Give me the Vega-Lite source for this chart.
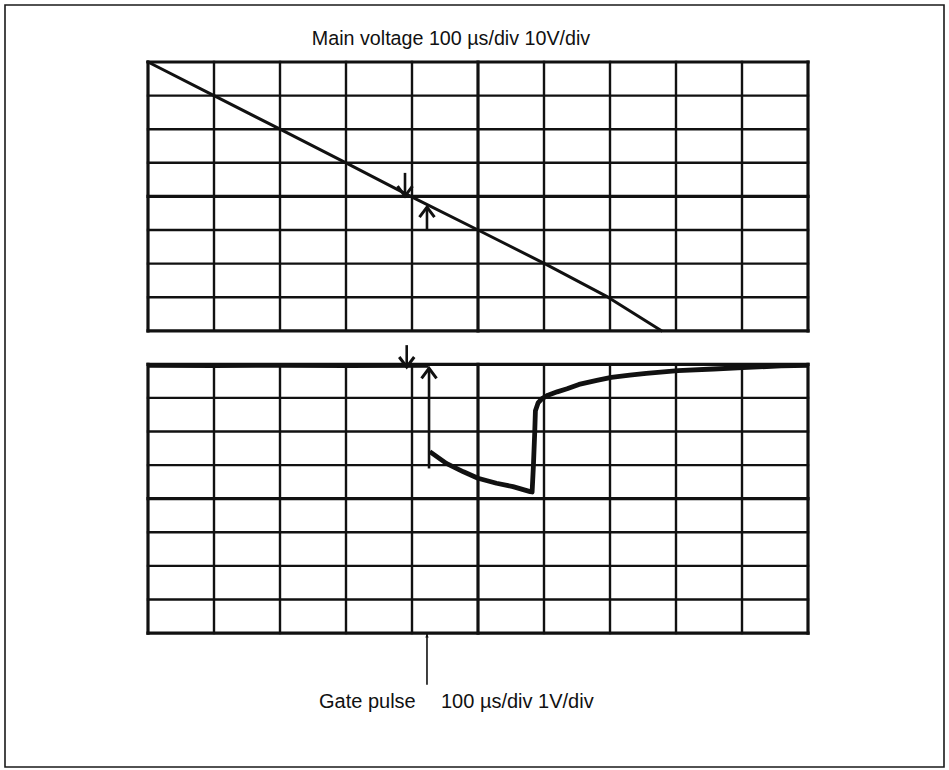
{
  "$schema": "https://vega.github.io/schema/vega-lite/v6.json",
  "width": 949,
  "height": 770,
  "autosize": {"type": "fit", "contains": "padding"},
  "padding": {"left": 5, "top": 5, "right": 5, "bottom": 3},
  "background": "white",
  "config": {"view": {"stroke": "#1a1a1a", "strokeWidth": 1.6}},
  "datasets": {
    "mainCols": [
      {"t": 0, "lo": -40, "hi": 40, "kind": "major"}, {"t": 100, "lo": -40, "hi": 40, "kind": "minor"}, {"t": 200, "lo": -40, "hi": 40, "kind": "minor"},
      {"t": 300, "lo": -40, "hi": 40, "kind": "minor"}, {"t": 400, "lo": -40, "hi": 40, "kind": "minor"}, {"t": 500, "lo": -40, "hi": 40, "kind": "major"},
      {"t": 600, "lo": -40, "hi": 40, "kind": "minor"}, {"t": 700, "lo": -40, "hi": 40, "kind": "minor"}, {"t": 800, "lo": -40, "hi": 40, "kind": "minor"},
      {"t": 900, "lo": -40, "hi": 40, "kind": "minor"}, {"t": 1000, "lo": -40, "hi": 40, "kind": "major"}
    ],
    "mainRows": [
      {"v": -40, "t0": 0, "t1": 1000, "kind": "major"}, {"v": -30, "t0": 0, "t1": 1000, "kind": "minor"}, {"v": -20, "t0": 0, "t1": 1000, "kind": "minor"},
      {"v": -10, "t0": 0, "t1": 1000, "kind": "minor"}, {"v": 0, "t0": 0, "t1": 1000, "kind": "major"}, {"v": 10, "t0": 0, "t1": 1000, "kind": "minor"},
      {"v": 20, "t0": 0, "t1": 1000, "kind": "minor"}, {"v": 30, "t0": 0, "t1": 1000, "kind": "minor"}, {"v": 40, "t0": 0, "t1": 1000, "kind": "major"}
    ],
    "gateCols": [
      {"t": 0, "lo": -8, "hi": 0, "kind": "major"}, {"t": 100, "lo": -8, "hi": 0, "kind": "minor"}, {"t": 200, "lo": -8, "hi": 0, "kind": "minor"},
      {"t": 300, "lo": -8, "hi": 0, "kind": "minor"}, {"t": 400, "lo": -8, "hi": 0, "kind": "minor"}, {"t": 500, "lo": -8, "hi": 0, "kind": "major"},
      {"t": 600, "lo": -8, "hi": 0, "kind": "minor"}, {"t": 700, "lo": -8, "hi": 0, "kind": "minor"}, {"t": 800, "lo": -8, "hi": 0, "kind": "minor"},
      {"t": 900, "lo": -8, "hi": 0, "kind": "minor"}, {"t": 1000, "lo": -8, "hi": 0, "kind": "major"}
    ],
    "gateRows": [
      {"v": -8, "t0": 0, "t1": 1000, "kind": "major"}, {"v": -7, "t0": 0, "t1": 1000, "kind": "minor"}, {"v": -6, "t0": 0, "t1": 1000, "kind": "minor"},
      {"v": -5, "t0": 0, "t1": 1000, "kind": "minor"}, {"v": -4, "t0": 0, "t1": 1000, "kind": "major"}, {"v": -3, "t0": 0, "t1": 1000, "kind": "minor"},
      {"v": -2, "t0": 0, "t1": 1000, "kind": "minor"}, {"v": -1, "t0": 0, "t1": 1000, "kind": "minor"}, {"v": 0, "t0": 0, "t1": 1000, "kind": "major"}
    ],
    "mainTrace": [
      {"t": 0, "v": 40}, {"t": 100, "v": 30}, {"t": 200, "v": 20}, {"t": 300, "v": 10}, {"t": 398, "v": 0},
      {"t": 500, "v": -10}, {"t": 601, "v": -20}, {"t": 697, "v": -30}, {"t": 778, "v": -40}
    ],
    "gateTrace": [
      {"seg": "a", "t": 0, "v": -0.03}, {"seg": "a", "t": 100, "v": -0.04}, {"seg": "a", "t": 200, "v": -0.03}, {"seg": "a", "t": 300, "v": -0.04}, {"seg": "a", "t": 425, "v": -0.03},
      {"seg": "b", "t": 427, "v": -2.6}, {"seg": "b", "t": 452, "v": -2.95}, {"seg": "b", "t": 478, "v": -3.2}, {"seg": "b", "t": 500, "v": -3.39},
      {"seg": "b", "t": 528, "v": -3.54}, {"seg": "b", "t": 553, "v": -3.64}, {"seg": "b", "t": 579, "v": -3.79}, {"seg": "b", "t": 582, "v": -3.8},
      {"seg": "b", "t": 584, "v": -3.0}, {"seg": "b", "t": 586, "v": -2.0}, {"seg": "b", "t": 587, "v": -1.38}, {"seg": "b", "t": 591, "v": -1.15},
      {"seg": "b", "t": 597, "v": -1.02}, {"seg": "b", "t": 606, "v": -0.92}, {"seg": "b", "t": 620, "v": -0.82}, {"seg": "b", "t": 635, "v": -0.73},
      {"seg": "b", "t": 653, "v": -0.6}, {"seg": "b", "t": 680, "v": -0.48}, {"seg": "b", "t": 702, "v": -0.39}, {"seg": "b", "t": 730, "v": -0.32},
      {"seg": "b", "t": 755, "v": -0.27}, {"seg": "b", "t": 803, "v": -0.19}, {"seg": "b", "t": 857, "v": -0.14}, {"seg": "b", "t": 901, "v": -0.1},
      {"seg": "b", "t": 959, "v": -0.05}, {"seg": "b", "t": 1000, "v": -0.03}
    ],
    "mainArrows": [
      {"t": 389.4, "from": 7.0, "to": 0.1, "dir": "down"},
      {"t": 422.7, "from": -10, "to": -3.2, "dir": "up"}
    ],
    "gateArrows": [
      {"t": 392, "from": 0.57, "to": -0.08, "dir": "down"},
      {"t": 425.8, "from": -3.1, "to": -0.12, "dir": "up"}
    ],
    "pointer": [{"t": 422.7, "from": -9.54, "to": -8.03}],
    "mainLabel": [{"text": "Main voltage 100 µs/div 10V/div", "t": 459.1, "v": 45.06}],
    "gateLabel": [
      {"text": "Gate pulse", "t": 259.1, "v": -10.23},
      {"text": "100 µs/div 1V/div", "t": 443.9, "v": -10.23}
    ]
  },
  "encoding": {
    "x": {"field": "t", "type": "quantitative", "scale": {"domain": [-216.667, 1206.061], "nice": false, "zero": false}, "axis": null}
  },
  "layer": [
    {
      "encoding": {
        "y": {"field": "v", "type": "quantitative", "scale": {"domain": [-169.821, 56.964], "nice": false, "zero": false}, "axis": null}
      },
      "layer": [
        {
          "data": {"name": "mainCols"},
          "mark": {"type": "rule", "color": "#111", "strokeCap": "square"},
          "encoding": {
            "y": {"field": "lo", "type": "quantitative", "scale": {"domain": [-169.821, 56.964], "nice": false, "zero": false}, "axis": null},
            "y2": {"field": "hi"},
            "strokeWidth": {"field": "kind", "type": "ordinal", "scale": {"domain": ["major", "minor"], "range": [3.2, 2.4]}, "legend": null}
          }
        },
        {
          "data": {"name": "mainRows"},
          "mark": {"type": "rule", "color": "#111", "strokeCap": "square"},
          "encoding": {
            "x": {"field": "t0", "type": "quantitative", "scale": {"domain": [-216.667, 1206.061], "nice": false, "zero": false}, "axis": null},
            "x2": {"field": "t1"},
            "strokeWidth": {"field": "kind", "type": "ordinal", "scale": {"domain": ["major", "minor"], "range": [3.2, 2.4]}, "legend": null}
          }
        },
        {
          "data": {"name": "mainTrace"},
          "mark": {"type": "line", "color": "#111", "strokeWidth": 3, "strokeJoin": "round", "strokeCap": "round"},
          "encoding": {}
        },
        {
          "data": {"name": "mainArrows"},
          "mark": {"type": "rule", "color": "#111", "strokeWidth": 2.6},
          "encoding": {
            "y": {"field": "from", "type": "quantitative", "scale": {"domain": [-169.821, 56.964], "nice": false, "zero": false}, "axis": null},
            "y2": {"field": "to"}
          }
        },
        {
          "data": {"name": "mainArrows"},
          "mark": {"type": "point", "filled": false, "color": "#111", "strokeWidth": 3, "opacity": 1, "size": 400, "strokeJoin": "miter"},
          "encoding": {
            "y": {"field": "to", "type": "quantitative", "scale": {"domain": [-169.821, 56.964], "nice": false, "zero": false}, "axis": null},
            "shape": {"field": "dir", "type": "nominal", "scale": {"domain": ["up", "down"], "range": ["M-0.75,1L0,0L0.75,1", "M-0.75,-1L0,0L0.75,-1"]}, "legend": null}
          }
        },
        {
          "data": {"name": "mainLabel"},
          "mark": {"type": "text", "align": "center", "baseline": "alphabetic", "font": "Liberation Sans", "fontSize": 19.7, "color": "#111"},
          "encoding": {"text": {"field": "text"}}
        }
      ]
    },
    {
      "encoding": {
        "y": {"field": "v", "type": "quantitative", "scale": {"domain": [-11.985, 10.693], "nice": false, "zero": false}, "axis": null}
      },
      "layer": [
        {
          "data": {"name": "gateCols"},
          "mark": {"type": "rule", "color": "#111", "strokeCap": "square"},
          "encoding": {
            "y": {"field": "lo", "type": "quantitative", "scale": {"domain": [-11.985, 10.693], "nice": false, "zero": false}, "axis": null},
            "y2": {"field": "hi"},
            "strokeWidth": {"field": "kind", "type": "ordinal", "scale": {"domain": ["major", "minor"], "range": [3.2, 2.4]}, "legend": null}
          }
        },
        {
          "data": {"name": "gateRows"},
          "mark": {"type": "rule", "color": "#111", "strokeCap": "square"},
          "encoding": {
            "x": {"field": "t0", "type": "quantitative", "scale": {"domain": [-216.667, 1206.061], "nice": false, "zero": false}, "axis": null},
            "x2": {"field": "t1"},
            "strokeWidth": {"field": "kind", "type": "ordinal", "scale": {"domain": ["major", "minor"], "range": [3.2, 2.4]}, "legend": null}
          }
        },
        {
          "data": {"name": "gateTrace"},
          "mark": {"type": "line", "color": "#111", "strokeWidth": 4.8, "strokeJoin": "round", "strokeCap": "butt"},
          "encoding": {"detail": {"field": "seg"}}
        },
        {
          "data": {"name": "gateArrows"},
          "mark": {"type": "rule", "color": "#111", "strokeWidth": 2.6},
          "encoding": {
            "y": {"field": "from", "type": "quantitative", "scale": {"domain": [-11.985, 10.693], "nice": false, "zero": false}, "axis": null},
            "y2": {"field": "to"}
          }
        },
        {
          "data": {"name": "gateArrows"},
          "mark": {"type": "point", "filled": false, "color": "#111", "strokeWidth": 3, "opacity": 1, "size": 400, "strokeJoin": "miter"},
          "encoding": {
            "y": {"field": "to", "type": "quantitative", "scale": {"domain": [-11.985, 10.693], "nice": false, "zero": false}, "axis": null},
            "shape": {"field": "dir", "type": "nominal", "scale": {"domain": ["up", "down"], "range": ["M-0.75,1L0,0L0.75,1", "M-0.75,-1L0,0L0.75,-1"]}, "legend": null}
          }
        },
        {
          "data": {"name": "pointer"},
          "mark": {"type": "rule", "color": "#111", "strokeWidth": 1.6},
          "encoding": {
            "y": {"field": "from", "type": "quantitative", "scale": {"domain": [-11.985, 10.693], "nice": false, "zero": false}, "axis": null},
            "y2": {"field": "to"}
          }
        },
        {
          "data": {"name": "pointer"},
          "mark": {"type": "point", "filled": true, "color": "#111", "opacity": 1, "size": 12, "shape": "M-1,2L0,0L1,2Z"},
          "encoding": {
            "y": {"field": "to", "type": "quantitative", "scale": {"domain": [-11.985, 10.693], "nice": false, "zero": false}, "axis": null}
          }
        },
        {
          "data": {"name": "gateLabel"},
          "mark": {"type": "text", "align": "left", "baseline": "alphabetic", "font": "Liberation Sans", "fontSize": 20, "color": "#111"},
          "encoding": {"text": {"field": "text"}}
        }
      ]
    }
  ],
  "resolve": {"scale": {"y": "independent"}}
}
